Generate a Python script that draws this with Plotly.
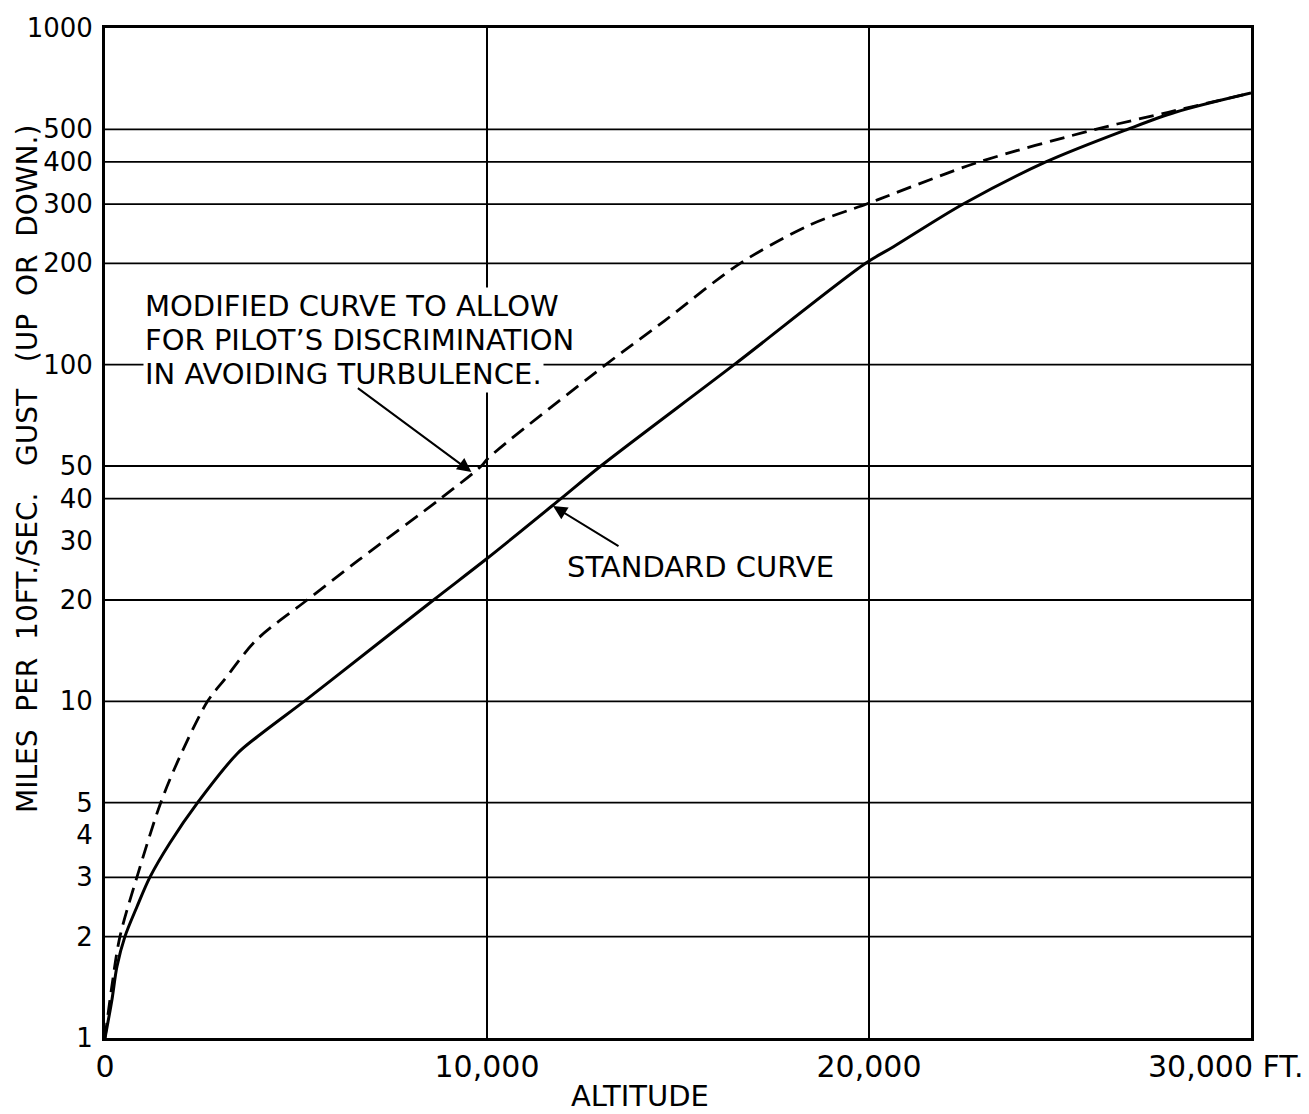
import plotly.graph_objects as go

# ---------------- data ----------------
# Standard curve: altitude (ft) vs miles per 10 ft/sec gust
std_alt = [0, 182, 313, 521, 834, 1173, 1694, 2424, 3466, 3987, 5212, 5942,
           8600, 10008, 11936, 12979, 16471, 19911, 20641, 22466, 24629, 26766, 28017, 30000]
std_miles = [1, 1.30, 1.63, 2, 2.45, 3, 3.79, 5, 7.0, 7.85, 10, 11.6,
             20, 26.6, 40, 50, 100, 200, 224, 300, 400, 500, 562, 641]

# Modified curve (pilot's discrimination)
mod_alt = [0, 170, 391, 834, 1459, 1955, 2684, 3127, 3961, 5291, 6646, 8783, 9851,
           10034, 13109, 14647, 16628, 18452, 19938, 20641, 22883, 25932, 27834, 30000]
mod_miles = [1, 1.4, 2, 3, 5, 6.83, 10, 11.6, 15.2, 20, 26.3, 40, 50,
             52.8, 100, 135, 200, 260, 300, 322, 400, 500, 562, 641]

# Axes
x_tick_vals = [0, 10000, 20000, 30000]
x_tick_text = ["0", "10,000", "20,000", "30,000 FT."]
y_tick_vals = [1, 2, 3, 4, 5, 10, 20, 30, 40, 50, 100, 200, 300, 400, 500, 1000]
y_tick_text = [str(v) for v in y_tick_vals]
y_grid_vals = [2, 3, 5, 10, 20, 40, 50, 100, 200, 300, 400, 500]

# Text
note_lines = ["MODIFIED CURVE TO ALLOW", "FOR PILOT\u2019S DISCRIMINATION", "IN AVOIDING TURBULENCE."]
std_label = "STANDARD CURVE"
x_title = "ALTITUDE"
y_title = ("MILES\u00a0 PER\u00a0 10FT./SEC.\u00a0\u00a0 GUST\u00a0\u00a0 (UP\u00a0 OR\u00a0 DOWN.)")

FONT = "DejaVu Sans"
W, H = 1309, 1114
L, R, T, B = 105, 1251, 28, 1038  # plot area in pixels


def px_x(px):
    return (px - L) / (R - L)


def px_y(py):
    return (B - py) / (B - T)


fig = go.Figure()

# horizontal grid lines (only at selected values)
gx, gy = [], []
for v in y_grid_vals:
    gx += [x_tick_vals[0], x_tick_vals[-1], None]
    gy += [v, v, None]
fig.add_trace(go.Scatter(x=gx, y=gy, mode="lines", line=dict(color="black", width=1.8),
                         hoverinfo="skip", showlegend=False))

fig.add_trace(go.Scatter(x=mod_alt, y=mod_miles, mode="lines",
                         line=dict(color="black", width=2.8, dash="15px,8px", shape="spline", smoothing=0.9),
                         showlegend=False, hoverinfo="skip"))
fig.add_trace(go.Scatter(x=std_alt, y=std_miles, mode="lines",
                         line=dict(color="black", width=3, shape="spline", smoothing=0.9),
                         showlegend=False, hoverinfo="skip"))

annotations = []
for i, line in enumerate(note_lines):
    annotations.append(dict(text=line, xref="paper", yref="paper", x=px_x(143), y=px_y(306 + 34 * i),
                            xanchor="left", yanchor="middle", showarrow=False,
                            font=dict(family=FONT, size=29, color="black"),
                            bgcolor="white", borderpad=1))
annotations.append(dict(text=std_label, xref="paper", yref="paper", x=px_x(565), y=px_y(567),
                        xanchor="left", yanchor="middle", showarrow=False,
                        font=dict(family=FONT, size=29, color="black")))
# arrows
annotations.append(dict(text="", x=9591, y=1.681, xref="x", yref="y", showarrow=True,
                        ax=-115, ay=-85, arrowhead=2, arrowsize=1.4, arrowwidth=2, arrowcolor="black"))
annotations.append(dict(text="", x=11728, y=1.580, xref="x", yref="y", showarrow=True,
                        ax=67, ay=41, arrowhead=2, arrowsize=1.4, arrowwidth=2, arrowcolor="black"))
# last x tick label (extends past the plot edge)
annotations.append(dict(text=x_tick_text[-1], xref="paper", yref="paper", x=px_x(1306), y=px_y(1066),
                        xanchor="right", yanchor="middle", showarrow=False,
                        font=dict(family=FONT, size=30, color="black")))
# axis titles
annotations.append(dict(text=x_title, xref="paper", yref="paper", x=px_x(640), y=px_y(1096),
                        xanchor="center", yanchor="middle", showarrow=False,
                        font=dict(family=FONT, size=29, color="black")))
annotations.append(dict(text=y_title, xref="paper", yref="paper", x=px_x(27), y=px_y(469),
                        xanchor="center", yanchor="middle", showarrow=False, textangle=-90,
                        font=dict(family=FONT, size=28, color="black")))

fig.update_layout(
    width=W, height=H,
    margin=dict(l=L, r=W - R, t=T, b=H - B),
    paper_bgcolor="white", plot_bgcolor="white",
    showlegend=False,
    annotations=annotations,
    xaxis=dict(range=[0, 30000], tickvals=x_tick_vals[:-1], ticktext=x_tick_text[:-1],
               showgrid=True, gridcolor="black", gridwidth=1.8, zeroline=False,
               showline=True, mirror=True, linecolor="black", linewidth=3,
               ticks="", ticklabelstandoff=0,
               tickfont=dict(family=FONT, size=30, color="black")),
    yaxis=dict(type="log", range=[0, 3], tickvals=y_tick_vals, ticktext=y_tick_text,
               showgrid=False, zeroline=False,
               showline=True, mirror=True, linecolor="black", linewidth=3,
               ticks="", ticklabelstandoff=4,
               tickfont=dict(family=FONT, size=26, color="black")),
)

fig.write_html("out.html", config={"displayModeBar": False},
               post_script="document.body.style.margin='0px';")
